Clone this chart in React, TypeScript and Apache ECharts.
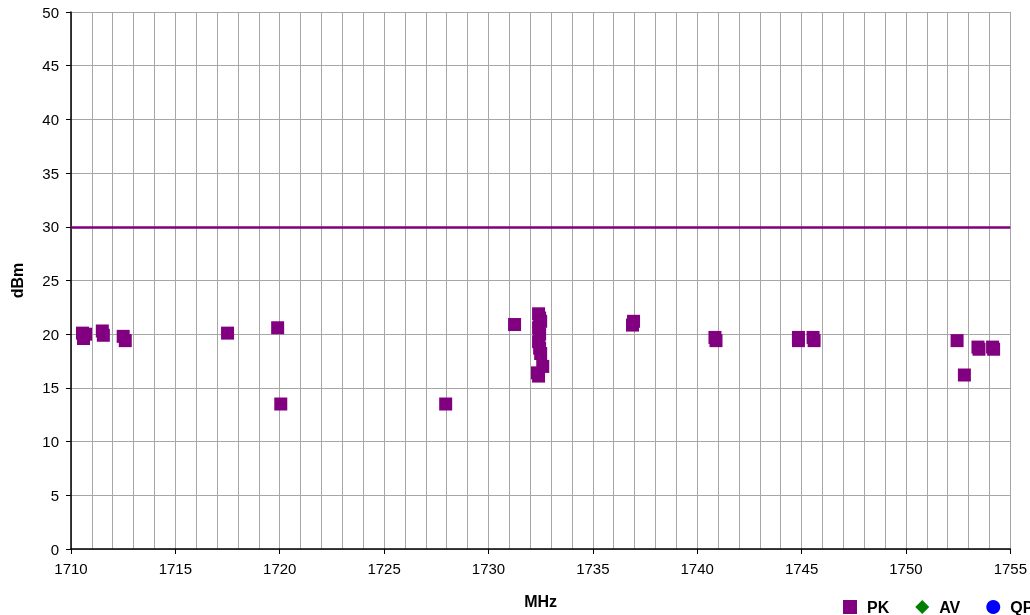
import React, { useEffect, useRef } from "react";
import * as echarts from "echarts";

const pkFreq = [
  1710.55, 1710.6, 1710.7, 1711.5, 1711.55, 1712.5, 1712.6, 1717.5, 1719.9, 1720.05,
  1727.95, 1731.25, 1732.4, 1732.45, 1732.5, 1732.4, 1732.45, 1732.4, 1732.45, 1732.5,
  1732.6, 1732.35, 1732.4, 1736.95, 1736.9, 1740.85, 1740.9, 1744.85, 1744.85, 1745.55,
  1745.6, 1752.45, 1752.8, 1753.45, 1753.5, 1754.15, 1754.2,
];
const pkLevel = [
  20.1, 19.6, 20.0, 20.3, 19.9, 19.8, 19.4, 20.1, 20.6, 13.5,
  13.5, 20.9, 21.9, 21.5, 21.2, 20.6, 20.0, 19.3, 18.7, 18.2,
  17.0, 16.4, 16.1, 21.2, 20.85, 19.7, 19.4, 19.7, 19.4, 19.7,
  19.4, 19.4, 16.2, 18.8, 18.6, 18.8, 18.6,
];
const avData: number[][] = [];
const qpData: number[][] = [];
const limitLevel = 30;
const xMin = 1710;
const xMax = 1755;
const yMin = 0;
const yMax = 50;

export default function App() {
  const ref = useRef<HTMLDivElement>(null);
  useEffect(() => {
    if (!ref.current) return;
    const chart = echarts.init(ref.current, null, { renderer: "svg" });
    const font = "Liberation Sans, Arial, sans-serif";
    const gridColor = "#a6a6a6";
    chart.setOption({
      animation: false,
      textStyle: { fontFamily: font },
      grid: { left: 71, right: 17, top: 12, bottom: 66 },
      legend: {
        left: 838,
        top: 594,
        width: 400,
        itemWidth: 14,
        itemHeight: 14,
        itemGap: 26,
        textStyle: {
          fontSize: 16,
          fontWeight: "bold",
          color: "#000",
          fontFamily: font,
          padding: [0, 0, 0, 5],
        },
        data: [
          { name: "PK", icon: "rect" },
          { name: "AV", icon: "diamond" },
          { name: "QP", icon: "circle" },
        ],
      },
      xAxis: {
        type: "value",
        min: xMin,
        max: xMax,
        interval: 5,
        name: "MHz",
        nameLocation: "middle",
        nameGap: 44,
        nameTextStyle: { fontSize: 16, fontWeight: "bold", color: "#000" },
        axisLine: { onZero: false, lineStyle: { color: "#000", width: 1.5 } },
        axisTick: { show: true, length: 5, lineStyle: { color: "#000" } },
        axisLabel: { fontSize: 15, color: "#000", margin: 12, formatter: (v: number) => String(v) },
        splitLine: { show: true, lineStyle: { color: gridColor, width: 1 } },
        minorTick: { show: false, splitNumber: 5 },
        minorSplitLine: { show: true, lineStyle: { color: gridColor, width: 1 } },
      },
      yAxis: {
        type: "value",
        min: yMin,
        max: yMax,
        interval: 5,
        name: "dBm",
        nameLocation: "middle",
        nameGap: 46,
        nameTextStyle: { fontSize: 16, fontWeight: "bold", color: "#000" },
        axisLine: { show: true, lineStyle: { color: "#000", width: 1.5 } },
        axisTick: { show: true, length: 5, lineStyle: { color: "#000" } },
        axisLabel: { fontSize: 15, color: "#000", margin: 12 },
        splitLine: { show: true, lineStyle: { color: gridColor, width: 1 } },
      },
      series: [
        {
          name: "PK",
          type: "scatter",
          symbol: "rect",
          symbolSize: 13,
          itemStyle: { color: "#800080", opacity: 1 },
          data: pkFreq.map((f, i) => [f, pkLevel[i]]),
          markLine: {
            silent: true,
            symbol: "none",
            label: { show: false },
            lineStyle: { color: "#800080", width: 2.5, type: "solid", opacity: 1 },
            data: [{ yAxis: limitLevel }],
          },
          z: 3,
        },
        {
          name: "AV",
          type: "scatter",
          symbol: "diamond",
          symbolSize: 10,
          itemStyle: { color: "#008000", opacity: 1 },
          data: avData,
        },
        {
          name: "QP",
          type: "scatter",
          symbol: "circle",
          symbolSize: 12,
          itemStyle: { color: "#0000ff", opacity: 1 },
          data: qpData,
        },
      ],
    });
    return () => chart.dispose();
  }, []);
  return (
    <div
      ref={ref}
      style={{ position: "fixed", left: 0, top: 0, width: 1030, height: 615 }}
    />
  );
}
